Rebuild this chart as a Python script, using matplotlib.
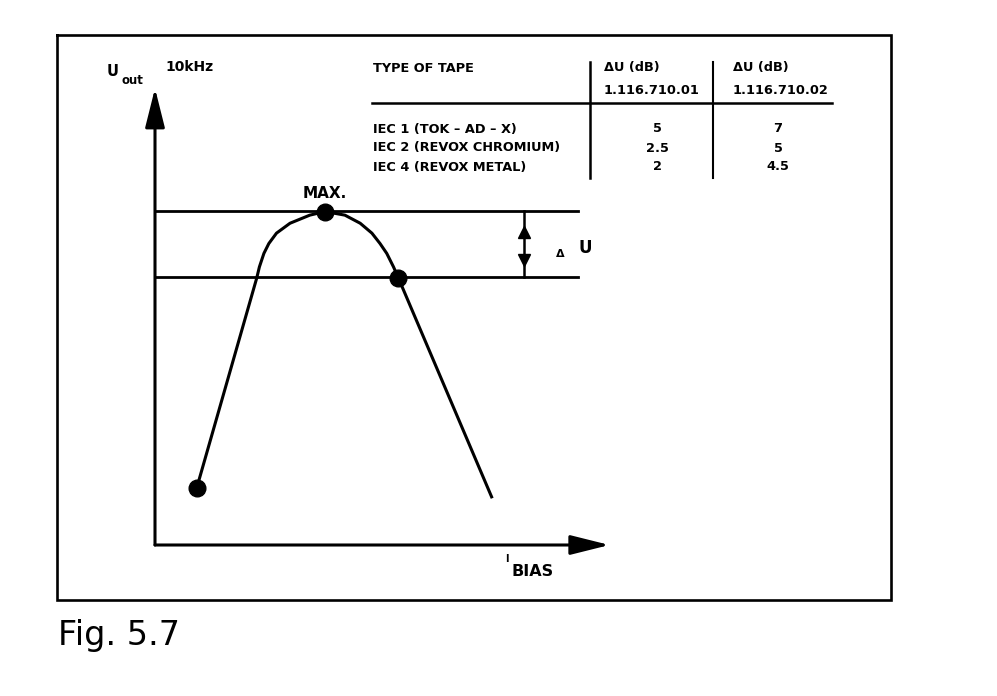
import matplotlib
matplotlib.use("Agg")
import matplotlib.pyplot as plt

plt.rcParams['font.family'] = ['DejaVu Sans']

# curve U_out vs I_BIAS (arbitrary units)
bias = [9.27, 22.6, 23.2, 24.2, 25.3, 27.0, 30.0, 34.4, 37.8,
        42.2, 45.6, 48.2, 50.0, 51.5, 53.0, 54.1, 74.8]
uout = [12.67, 59.3, 61.8, 64.8, 67.0, 69.3, 71.5, 73.3, 74.1,
        73.3, 71.5, 69.3, 67.0, 64.8, 61.8, 59.3, 10.7]
dot_bias = [9.27, 37.8, 54.1]
dot_uout = [12.67, 74.1, 59.3]
u_max = 74.2
u_low = 59.6
line_end = 94.0
du_x = 82.0

# table
tape_types = ["IEC 1 (TOK – AD – X)", "IEC 2 (REVOX CHROMIUM)", "IEC 4 (REVOX METAL)"]
du_01 = ["5", "2.5", "2"]
du_02 = ["7", "5", "4.5"]
col_heads = [("ΔU (dB)", "1.116.710.01"), ("ΔU (dB)", "1.116.710.02")]

W, H = 997, 696
fig = plt.figure(figsize=(W / 100, H / 100), dpi=100)

# overlay in pixel units for frame, labels and table
ov = fig.add_axes([0, 0, 1, 1])
ov.set_xlim(0, W)
ov.set_ylim(H, 0)
ov.axis('off')

ov.plot([57, 891, 891, 57, 57], [35, 35, 600, 600, 35], color='black', lw=1.9,
        solid_joinstyle='miter')
ov.text(58, 645, "Fig. 5.7", fontsize=24, va='baseline', ha='left')

# axis labels
ov.text(107, 72, "U", fontsize=10.5, fontweight='bold', va='center')
ov.text(121, 80, "out", fontsize=8.5, fontweight='bold', va='center')
ov.text(165, 67, "10kHz", fontsize=10, fontweight='bold', va='center')
ov.text(505, 559, "I", fontsize=7, fontweight='bold', va='center')
ov.text(511, 571, "BIAS", fontsize=11.5, fontweight='bold', va='center')
ov.text(325, 193, "MAX.", fontsize=11, fontweight='bold', va='center', ha='center')
ov.text(556, 254, "Δ", fontsize=8, fontweight='bold', va='center')
ov.text(578, 248, "U", fontsize=12, fontweight='bold', va='center')

# table
tfs = 9.3
ov.text(373, 68, "TYPE OF TAPE", fontsize=tfs, fontweight='bold', va='center')
for (h1, h2), x in zip(col_heads, [604, 733]):
    ov.text(x, 68, h1, fontsize=tfs, fontweight='bold', va='center')
    ov.text(x, 91, h2, fontsize=tfs, fontweight='bold', va='center')
ov.plot([372, 832], [103, 103], color='black', lw=1.8)
ov.plot([590, 590], [62, 178], color='black', lw=1.8)
ov.plot([713, 713], [62, 178], color='black', lw=1.5)
for i, (name, a, b) in enumerate(zip(tape_types, du_01, du_02)):
    y = 129 + i * 19
    ov.text(373, y, name, fontsize=tfs, fontweight='bold', va='center')
    ov.text(657, y, a, fontsize=tfs, fontweight='bold', va='center', ha='center')
    ov.text(778, y, b, fontsize=tfs, fontweight='bold', va='center', ha='center')

# plot area, origin at the axes corner
ax = fig.add_axes([155 / W, 151 / H, 450 / W, 450 / H])
ax.set_xlim(0, 100)
ax.set_ylim(0, 100)
ax.axis('off')
ax.patch.set_alpha(0)

arrow = dict(arrowstyle='-|>,head_length=2.4,head_width=0.6', color='black', lw=2.2,
             shrinkA=0, shrinkB=0)
ax.annotate("", xy=(0, 101.5), xytext=(0, 0), arrowprops=arrow, annotation_clip=False)
ax.annotate("", xy=(101, 0), xytext=(0, 0), arrowprops=arrow, annotation_clip=False)

ax.plot([0, line_end], [u_max, u_max], color='black', lw=2.0, clip_on=False)
ax.plot([0, line_end], [u_low, u_low], color='black', lw=2.0, clip_on=False)
ax.plot(bias, uout, color='black', lw=2.2, solid_joinstyle='round', clip_on=False)
ax.plot(dot_bias, dot_uout, 'o', color='black', ms=12, clip_on=False)

# delta U marker
ax.plot([du_x, du_x], [u_low, u_max], color='black', lw=1.8)
ax.plot([du_x], [69.6], marker='^', color='black', ms=9)
ax.plot([du_x], [63.3], marker='v', color='black', ms=9)

fig.savefig("out.png", dpi=100)
